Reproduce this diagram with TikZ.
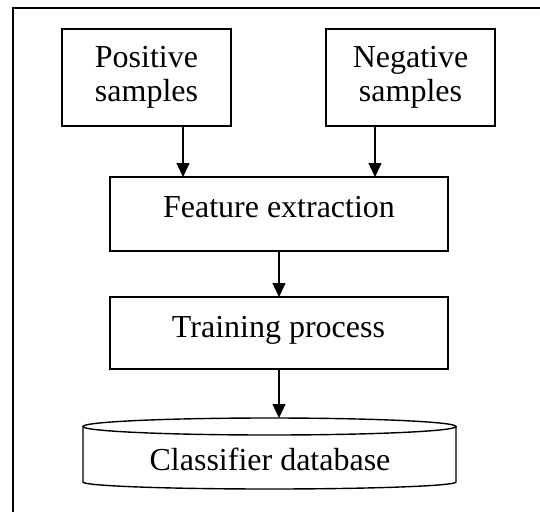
\documentclass[tikz,border=0pt]{standalone}
\usepackage{fontspec}
\setmainfont{Liberation Serif}
\usetikzlibrary{arrows.meta}
\begin{document}
\begin{tikzpicture}[x=1pt,y=-1pt,
  boxnode/.style={draw,line width=1.4pt,inner sep=0pt,outer sep=0pt,align=center,
    font=\fontsize{32}{34.5}\selectfont},
  txt/.style={anchor=base,inner sep=0pt,font=\fontsize{32}{34.5}\selectfont},
  arr/.style={line width=1.3pt,-{Triangle[length=14pt,width=13pt]}},
  frame/.style={line width=1.2pt}]
\useasboundingbox (0,0) rectangle (540,511);
\fill[white] (0,0) rectangle (540,511);
\coordinate (ftl) at (13,8);
\coordinate (ftr) at (541,8);
\coordinate (fbl) at (13,512);
\draw[frame] (ftr) -- (ftl) -- (fbl);
\node[boxnode,minimum width=169pt,minimum height=97pt] (pos) at (146.5,77.5) {Positive\\samples};
\node[boxnode,minimum width=169pt,minimum height=97pt] (neg) at (410.5,77.5) {Negative\\samples};
\node[boxnode,minimum width=338pt,minimum height=74pt] (fe) at (279,214) {};
\node[txt] (fet) at (279,217.3) {Feature extraction};
\node[boxnode,minimum width=338pt,minimum height=72pt] (tr) at (279,333) {};
\node[txt] (trt) at (278.5,337) {Training process};
% database cylinder
\node[inner sep=0pt,outer sep=0pt,minimum width=373pt,minimum height=71pt] (db) at (269.5,453.5) {};
\draw[line width=1.4pt] (269.5,426.5) ellipse [x radius=186.5pt, y radius=8.5pt];
\draw[line width=1.4pt] (83,426.5) -- (83,482) arc[start angle=180,end angle=360,x radius=186.5pt,y radius=7pt] -- (456,426.5);
\node[txt] (dbt) at (270,470.5) {Classifier database};
% connectors
\draw[arr] ([xshift=36.5pt]pos.south) -- ([xshift=36.5pt]pos.south |- fe.north);
\draw[arr] ([xshift=-35.5pt]neg.south) -- ([xshift=-35.5pt]neg.south |- fe.north);
\draw[arr] (fe.south) -- (fe.south |- tr.north);
\draw[arr] (tr.south) -- (tr.south |- db.north);
\end{tikzpicture}
\end{document}
